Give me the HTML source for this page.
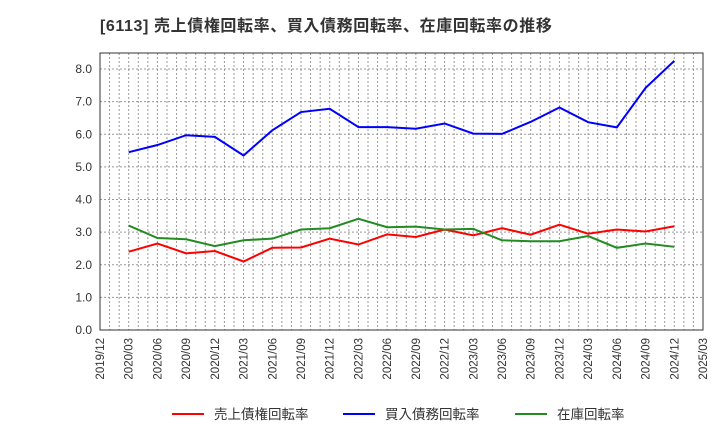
<!DOCTYPE html>
<html><head><meta charset="utf-8"><style>
body{margin:0;background:#fff;width:720px;height:440px;overflow:hidden;font-family:"Liberation Sans","Noto Sans CJK JP",sans-serif}
</style></head><body>
<svg id="c" width="720" height="440" xmlns="http://www.w3.org/2000/svg">
<text x="100" y="31" font-size="16" font-weight="bold" letter-spacing="0.6" fill="#333" font-family="Liberation Sans, Noto Sans CJK JP, sans-serif">[6113]  売上債権回転率、買入債務回転率、在庫回転率の推移</text>
<g id="grid"></g><g id="axes"></g><g id="series"></g><g id="legend"></g>
</svg>
<script>
const xLabels=["2019/12","2020/03","2020/06","2020/09","2020/12","2021/03","2021/06","2021/09","2021/12","2022/03","2022/06","2022/09","2022/12","2023/03","2023/06","2023/09","2023/12","2024/03","2024/06","2024/09","2024/12","2025/03"];
const yTicks=[0,1,2,3,4,5,6,7,8];
const receivables=[2.40,2.65,2.35,2.42,2.10,2.52,2.53,2.80,2.62,2.93,2.85,3.08,2.90,3.12,2.92,3.23,2.95,3.08,3.02,3.18];
const payables=[5.45,5.67,5.97,5.92,5.35,6.12,6.68,6.78,6.22,6.22,6.17,6.33,6.02,6.01,6.38,6.82,6.37,6.21,7.42,8.25];
const inventory=[3.20,2.82,2.78,2.57,2.75,2.80,3.08,3.12,3.41,3.15,3.17,3.08,3.10,2.75,2.72,2.72,2.88,2.52,2.65,2.55];
const NS="http://www.w3.org/2000/svg";
const L=100,R=703,T=53,B=330;
const X=i=>L+(R-L)*i/(xLabels.length-1);
const Y=v=>B-(B-69)*v/8;
function mk(p,t,a){const e=document.createElementNS(NS,t);for(const k in a)e.setAttribute(k,a[k]);document.getElementById(p).appendChild(e);return e;}
for(let m=1;m<63;m++){const x=L+(R-L)*m/63;
const g=mk('grid','line',{x1:x,x2:x,y1:T,y2:B,stroke:'#999','stroke-dasharray':'2,2','stroke-width':1});

}
yTicks.forEach(v=>{const y=Y(v);
const g=mk('grid','line',{x1:L,x2:R,y1:y,y2:y,stroke:'#999','stroke-dasharray':'2,2','stroke-width':1});


const t=mk('axes','text',{x:L-8,y:y+4,'text-anchor':'end','font-size':12,fill:'#333'});t.textContent=v.toFixed(1);

});
xLabels.forEach((s,i)=>{const x=X(i);
const t=mk('axes','text',{x:x+4,y:B+8,'text-anchor':'end','font-size':11.5,fill:'#333',transform:`rotate(-90 ${x+4} ${B+8})`});t.textContent=s;

});
const fr=mk('axes','rect',{x:L,y:T,width:R-L,height:B-T,fill:'none',stroke:'#333','stroke-width':1});


function line(data,color,name){const pts=data.map((v,i)=>X(i+1)+','+Y(v)).join(' ');
const p=mk('series','polyline',{points:pts,fill:'none',stroke:color,'stroke-width':2});

}
line(receivables,'#ff0000','receivables-turnover-line');
line(payables,'#0000ff','payables-turnover-line');
line(inventory,'#228b22','inventory-turnover-line');
const leg=[["売上債権回転率","#ff0000",172],["買入債務回転率","#0000ff",343],["在庫回転率","#228b22",515]];
leg.forEach(([s,c,x])=>{
const l=mk('legend','line',{x1:x,x2:x+32,y1:414,y2:414,stroke:c,'stroke-width':2});


const t=mk('legend','text',{x:x+42,y:419,'font-size':13.5,fill:'#333'});t.textContent=s;

});
</script>
</body></html>
